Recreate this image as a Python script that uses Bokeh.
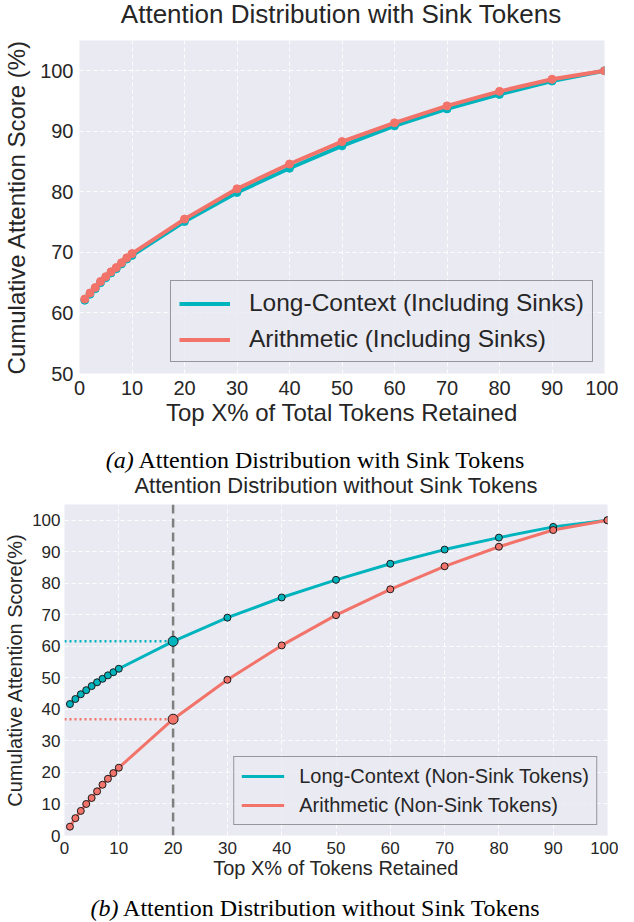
from bokeh.plotting import figure
from bokeh.layouts import column
from bokeh.models import Range1d, Legend, LegendItem, Span, FixedTicker, Div
from bokeh.embed import file_html
from bokeh.resources import INLINE

# ---------------- data ----------------
x_pct = [1, 2, 3, 4, 5, 6, 7, 8, 9, 10, 20, 30, 40, 50, 60, 70, 80, 90, 100]
sink_long = [62.1, 63.1, 64.0, 65.0, 65.8, 66.6, 67.3, 68.1, 68.9, 69.5,
             75.1, 79.9, 83.9, 87.6, 90.9, 93.7, 96.1, 98.3, 100.0]
sink_arith = [62.3, 63.3, 64.2, 65.2, 66.0, 66.8, 67.5, 68.3, 69.1, 69.8,
              75.5, 80.5, 84.6, 88.3, 91.4, 94.2, 96.6, 98.6, 100.0]
nosink_long = [41.7, 43.3, 44.8, 46.1, 47.4, 48.6, 49.7, 50.8, 51.8, 52.9,
               61.6, 69.1, 75.5, 81.1, 86.2, 90.7, 94.5, 97.9, 100.0]
nosink_arith = [2.8, 5.5, 7.8, 10.0, 11.9, 14.0, 16.1, 18.0, 19.8, 21.5,
                36.9, 49.4, 60.3, 69.9, 78.1, 85.4, 91.6, 96.9, 100.0]
x_ticks = [0, 10, 20, 30, 40, 50, 60, 70, 80, 90, 100]
y_ticks_a = [50, 60, 70, 80, 90, 100]
y_ticks_b = [0, 10, 20, 30, 40, 50, 60, 70, 80, 90, 100]
cut_x = 20

title_a = "Attention Distribution with Sink Tokens"
title_b = "Attention Distribution without Sink Tokens"
labels_a = ["Long-Context (Including Sinks)", "Arithmetic (Including Sinks)"]
labels_b = ["Long-Context (Non-Sink Tokens)", "Arithmetic (Non-Sink Tokens)"]

TEAL = "#00B4BE"
CORAL = "#F2736A"
BG = "#EAEAF2"
TXT = "#262626"
SANS = "Liberation Sans"
SERIF = "Liberation Serif"


def style(p, tick_size, label_size):
    p.background_fill_color = BG
    p.border_fill_color = "white"
    p.outline_line_color = None
    for ax in p.axis:
        ax.axis_line_color = None
        ax.major_tick_line_color = None
        ax.minor_tick_line_color = None
        ax.major_tick_out = 0
        ax.major_tick_in = 0
        ax.major_label_text_font = SANS
        ax.major_label_text_font_size = tick_size
        ax.major_label_text_color = TXT
        ax.axis_label_text_font = SANS
        ax.axis_label_text_font_size = label_size
        ax.axis_label_text_font_style = "normal"
        ax.axis_label_text_color = TXT
    p.grid.grid_line_color = "white"
    p.grid.grid_line_dash = "4 3"
    p.grid.grid_line_width = 1
    p.grid.grid_line_alpha = 0.9


def text_block(text, font, size, color, pad_top, pad_left, line_h=20):
    return ('<div style="width:618px; box-sizing:border-box; '
            'padding:%dpx 0 0 %dpx; line-height:%dpx; '
            'font-family:\'%s\'; font-size:%s; text-align:center; '
            'color:%s; white-space:nowrap;">%s</div>'
            % (pad_top, pad_left, line_h, font, size, color, text))


# ---------------- title (a) ----------------
head_a = Div(width=618, height=36, margin=0,
             text=text_block(title_a, SANS, "26px", TXT, 0, 64, 29))

# ---------------- chart (a) ----------------
p1 = figure(width=618, height=394, output_backend="svg", toolbar_location=None,
            x_range=Range1d(0, 100), y_range=Range1d(50, 105),
            min_border_left=78, min_border_right=14, min_border_top=4,
            min_border_bottom=57,
            x_axis_label="Top X% of Total Tokens Retained",
            y_axis_label="Cumulative Attention Score (%)")
p1.frame_align = False
style(p1, "20px", "24px")
p1.xaxis.ticker = FixedTicker(ticks=x_ticks)
p1.yaxis.ticker = FixedTicker(ticks=y_ticks_a)
p1.xaxis.major_label_standoff = 7
p1.yaxis.major_label_standoff = 6
p1.xaxis.axis_label_standoff = 1
p1.yaxis.axis_label_standoff = 7

la = p1.line(x_pct, sink_long, line_color=TEAL, line_width=4)
p1.scatter(x_pct, sink_long, size=8, fill_color=TEAL, line_color=TEAL)
lb = p1.line(x_pct, sink_arith, line_color=CORAL, line_width=4)
p1.scatter(x_pct, sink_arith, size=8, fill_color=CORAL, line_color=CORAL)

leg1 = Legend(items=[LegendItem(label=labels_a[0], renderers=[la]),
                     LegendItem(label=labels_a[1], renderers=[lb])],
              location="bottom_right", label_text_font=SANS,
              label_text_font_size="24.5px", label_text_color=TXT,
              glyph_width=51, glyph_height=27, label_height=27,
              label_standoff=19, spacing=8, padding=8, margin=11,
              border_line_color="#444444", border_line_width=1,
              background_fill_color=BG, background_fill_alpha=0.8)
p1.add_layout(leg1)

# ---------------- caption (a) + title (b) ----------------
mid = Div(width=618, height=70, margin=0,
          text=(text_block('<i>(a)</i> ' + title_a, SERIF, "24px", "black", 20, 12)
                + text_block(title_b, SANS, "22px", TXT, 6, 54)))

# ---------------- chart (b) ----------------
p2 = figure(width=618, height=382, output_backend="svg", toolbar_location=None,
            x_range=Range1d(0, 100), y_range=Range1d(0, 105),
            min_border_left=64, min_border_right=11, min_border_top=4,
            min_border_bottom=47,
            x_axis_label="Top X% of Tokens Retained",
            y_axis_label="Cumulative Attention Score(%)")
p2.frame_align = False
style(p2, "17px", "20px")
p2.xaxis.ticker = FixedTicker(ticks=x_ticks)
p2.yaxis.ticker = FixedTicker(ticks=y_ticks_b)
p2.xaxis.major_label_standoff = 6
p2.yaxis.major_label_standoff = 4
p2.xaxis.axis_label_standoff = 0
p2.yaxis.axis_label_standoff = 3

vline = Span(location=cut_x, dimension="height", line_color="#808080",
             line_width=2.5, line_dash="9 5", level="underlay")
p2.add_layout(vline)

i20 = x_pct.index(cut_x)
p2.segment(x0=[0], y0=[nosink_long[i20]], x1=[cut_x], y1=[nosink_long[i20]],
           line_color=TEAL, line_width=2.5, line_dash="2 3")
p2.segment(x0=[0], y0=[nosink_arith[i20]], x1=[cut_x], y1=[nosink_arith[i20]],
           line_color=CORAL, line_width=2.5, line_dash="2 3")

lc = p2.line(x_pct, nosink_long, line_color=TEAL, line_width=3)
ld = p2.line(x_pct, nosink_arith, line_color=CORAL, line_width=3)
p2.scatter(x_pct, nosink_long, size=7, fill_color=TEAL, line_color="#1a1a1a", line_width=1)
p2.scatter(x_pct, nosink_arith, size=7, fill_color=CORAL, line_color="#1a1a1a", line_width=1)
p2.scatter([x_pct[i20]], [nosink_long[i20]], size=10, fill_color=TEAL,
           line_color="#1a1a1a", line_width=1)
p2.scatter([x_pct[i20]], [nosink_arith[i20]], size=10, fill_color=CORAL,
           line_color="#1a1a1a", line_width=1)

leg2 = Legend(items=[LegendItem(label=labels_b[0], renderers=[lc]),
                     LegendItem(label=labels_b[1], renderers=[ld])],
              location="bottom_right", label_text_font=SANS,
              label_text_font_size="20px", label_text_color=TXT,
              glyph_width=43, glyph_height=24, label_height=24,
              label_standoff=15, spacing=5, padding=7, margin=10,
              border_line_color="#444444", border_line_width=1,
              background_fill_color=BG, background_fill_alpha=0.8)
p2.add_layout(leg2)

# ---------------- caption (b) ----------------
cap_b = Div(width=618, height=40, margin=0,
            text=text_block('<i>(b)</i> ' + title_b, SERIF, "24px", "black", 16, 12))

layout = column(head_a, p1, mid, p2, cap_b, spacing=0)
open("out.html", "w").write(file_html(layout, INLINE))
